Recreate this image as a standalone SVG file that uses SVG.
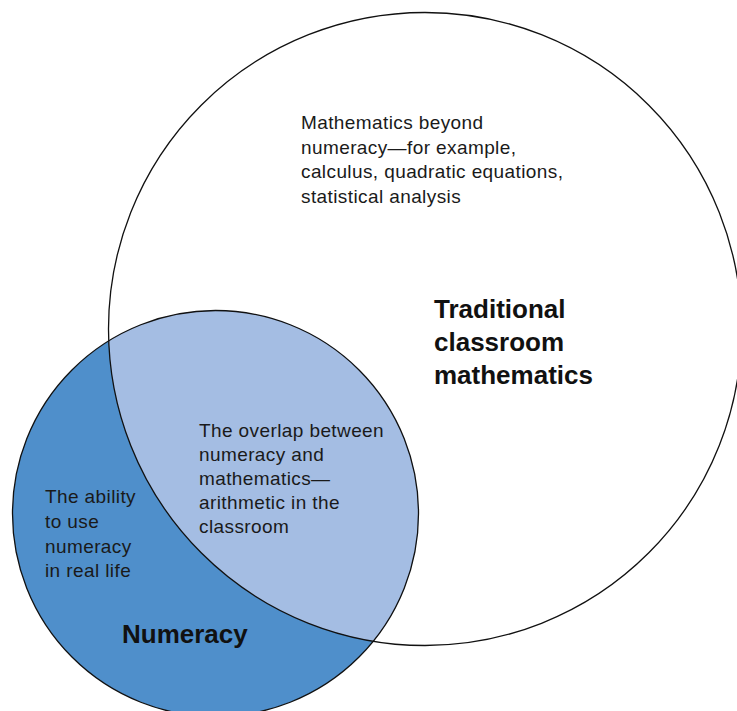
<svg xmlns="http://www.w3.org/2000/svg" width="737" height="711" viewBox="0 0 737 711">
<defs>
<style>
.t{font-family:"Liberation Sans",Arial,sans-serif;font-size:19px;letter-spacing:0.4px;fill:#1a1a1a}
.b{font-family:"Liberation Sans",Arial,sans-serif;font-size:26px;font-weight:bold;fill:#111}
.ol{fill:none;stroke:#111;stroke-width:1.3}
</style>
<clipPath id="inBig"><circle cx="425" cy="329" r="316.5"/></clipPath>
</defs>
<rect width="737" height="711" fill="#fff"/>
<g id="numeracy">
<circle cx="215.5" cy="513.5" r="203" fill="#4f8fcb"/>
</g>
<g id="overlap">
<circle cx="215.5" cy="513.5" r="203" fill="#a4bde3" clip-path="url(#inBig)"/>
</g>
<g id="outlines">
<circle class="ol" cx="215.5" cy="513.5" r="203"/>
<circle class="ol" cx="425" cy="329" r="316.5"/>
</g>
<g id="label-math">
<text class="t"><tspan x="301" y="129">Mathematics beyond</tspan><tspan x="301" y="153.5">numeracy—for example,</tspan><tspan x="301" y="178">calculus, quadratic equations,</tspan><tspan x="301" y="202.5">statistical analysis</tspan></text>
<text class="b"><tspan x="434" y="318">Traditional</tspan><tspan x="434" y="351">classroom</tspan><tspan x="434" y="384">mathematics</tspan></text>
</g>
<g id="label-overlap">
<text class="t"><tspan x="199" y="437">The overlap between</tspan><tspan x="199" y="461">numeracy and</tspan><tspan x="199" y="485">mathematics—</tspan><tspan x="199" y="509">arithmetic in the</tspan><tspan x="199" y="533">classroom</tspan></text>
</g>
<g id="label-numeracy">
<text class="t"><tspan x="45" y="503">The ability</tspan><tspan x="45" y="528">to use</tspan><tspan x="45" y="552.5">numeracy</tspan><tspan x="45" y="577">in real life</tspan></text>
<text class="b" x="122" y="643">Numeracy</text>
</g>
</svg>
